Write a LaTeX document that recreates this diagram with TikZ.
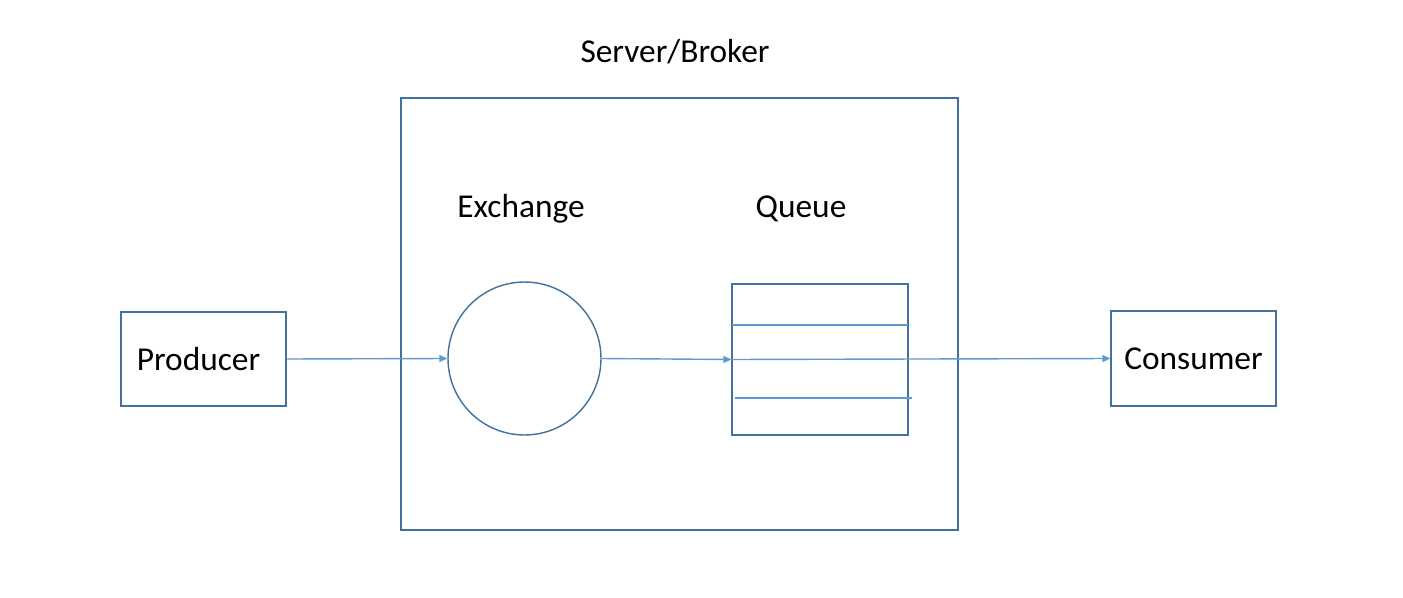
\documentclass[tikz,border=0pt]{standalone}
\usepackage{fontspec}
\setmainfont{Carlito}
\usetikzlibrary{positioning}
\usetikzlibrary{arrows.meta}
\definecolor{boxblue}{RGB}{65,113,156}
\definecolor{flowblue}{RGB}{91,155,213}

\begin{document}
\begin{tikzpicture}[x=0.02cm, y=-0.02cm,
    box/.style={draw=boxblue, line width=0.8pt, inner sep=0pt},
    label/.style={font=\fontsize{19}{22}\selectfont},
    flow/.style={draw=flowblue, line width=0.8pt, -{Triangle[length=1.6mm, width=1.4mm]}}]
    \useasboundingbox (0,0) rectangle (1403,598);

    % Broker frame and its title
    \node[box, minimum width=11.14cm, minimum height=8.64cm] (broker) at (679.5,314) {};
    \node[label] (brokertitle) at (675,52) {Server/Broker};

    % Producer and consumer
    \node[box, minimum width=3.3cm, minimum height=1.88cm, label] (producer) at (203.5,359) {\hspace*{-0.2cm}Producer};
    \node[box, minimum width=3.3cm, minimum height=1.9cm, label] (consumer) at (1193.5,358.5) {Consumer};

    % Exchange (circle)
    \node[box, circle, minimum size=3.06cm] (exchange) at (524.5,358.5) {};
    \node[label] (exchangetitle) at (521,209) {Exchange};

    % Queue with its slots
    \node[box, minimum width=3.52cm, minimum height=3.02cm] (queue) at (820,359.5) {};
    \node[label] (queuetitle) at (801,209) {Queue};
    \draw[flowblue, line width=0.8pt] (732,325) -- (908,325);
    \draw[flowblue, line width=0.8pt] (735,398) -- (912,398);

    % Message flow
    \draw[flow] (producer.east) -- (exchange.west);
    \draw[flow] (exchange.east) -- (queue.west);
    \draw[flow] (queue.west) -- (consumer.west);
\end{tikzpicture}
\end{document}
